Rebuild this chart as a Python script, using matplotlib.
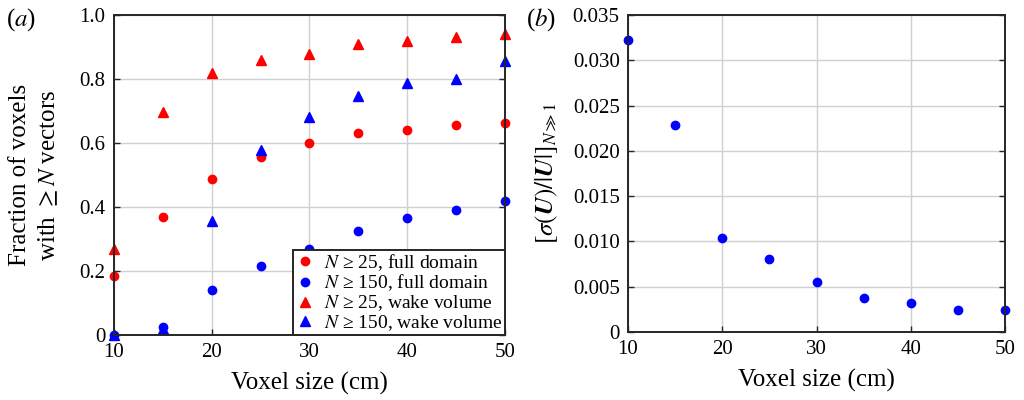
import matplotlib
matplotlib.use("Agg")
import matplotlib.pyplot as plt

plt.rcParams['font.family'] = ['Liberation Serif', 'DejaVu Serif']
plt.rcParams['mathtext.fontset'] = 'stix'

voxel = [10, 15, 20, 25, 30, 35, 40, 45, 50]
full_25 = [0.185, 0.37, 0.488, 0.557, 0.60, 0.632, 0.641, 0.656, 0.661]
full_150 = [0.0, 0.025, 0.14, 0.215, 0.27, 0.325, 0.367, 0.39, 0.42]
wake_25 = [0.27, 0.697, 0.82, 0.86, 0.877, 0.91, 0.92, 0.93, 0.94]
wake_150 = [0.0, 0.02, 0.355, 0.578, 0.68, 0.748, 0.788, 0.80, 0.855]
sigma_ratio = [0.0322, 0.0228, 0.0104, 0.0081, 0.0055, 0.0037, 0.0032, 0.0024, 0.0024]

spine_c = '#262626'
fig = plt.figure(figsize=(10.24, 4.0), dpi=100)
ax1 = fig.add_axes([0.1113, 0.1625, 0.3818, 0.8])
ax2 = fig.add_axes([0.6133, 0.17, 0.3682, 0.7925])

def style(ax):
    for s in ax.spines.values():
        s.set_color(spine_c)
        s.set_linewidth(1.4)
    ax.tick_params(direction='in', length=4, width=1.0, color=spine_c,
                   labelsize=15, right=True, top=False, pad=6)
    for t in ax.get_xticklabels() + ax.get_yticklabels():
        t.set_fontfamily('Liberation Serif')
    ax.grid(True, color='#d0d0d0', linewidth=1.0)
    ax.set_axisbelow(True)
    ax.set_xlabel('Voxel size (cm)', fontsize=18, labelpad=7)

ms = 6
ax1.plot(voxel, full_25, 'o', color='#ff0000', ms=ms, clip_on=False, label=r'$N$ ≥ 25, full domain')
ax1.plot(voxel, full_150, 'o', color='#0000ff', ms=ms, clip_on=False, label=r'$N$ ≥ 150, full domain')
ax1.plot(voxel, wake_25, '^', color='#ff0000', ms=ms+0.5, clip_on=False, label=r'$N$ ≥ 25, wake volume')
ax1.plot(voxel, wake_150, '^', color='#0000ff', ms=ms+0.5, clip_on=False, label=r'$N$ ≥ 150, wake volume')
ax1.set_xlim(10, 50)
ax1.set_ylim(0, 1.0)
ax1.set_xticks([10, 20, 30, 40, 50])
ax1.set_yticks([0, 0.2, 0.4, 0.6, 0.8, 1.0])
ax1.set_yticklabels(['0', '0.2', '0.4', '0.6', '0.8', '1.0'])
style(ax1)
ax1.set_ylabel('Fraction of voxels\n' + r'with $\geq N$ vectors', fontsize=18, linespacing=1.3, labelpad=14)
leg = ax1.legend(loc='lower right', fontsize=14, frameon=True, fancybox=False,
                 edgecolor=spine_c, framealpha=1, borderpad=0.1, handletextpad=0.5,
                 handlelength=1.0, labelspacing=0.0, borderaxespad=0.0)
leg.get_frame().set_linewidth(1.4)

ax2.plot(voxel, sigma_ratio, 'o', color='#0000ff', ms=ms, clip_on=False)
ax2.set_xlim(10, 50)
ax2.set_ylim(0, 0.035)
ax2.set_xticks([10, 20, 30, 40, 50])
ax2.set_yticks([0, 0.005, 0.010, 0.015, 0.020, 0.025, 0.030, 0.035])
ax2.set_yticklabels(['0', '0.005', '0.010', '0.015', '0.020', '0.025', '0.030', '0.035'])
style(ax2)
ax2.set_ylabel(r'$[\sigma(\boldsymbol{U})/|\boldsymbol{U}|]_{N\gg 1}$', fontsize=18, labelpad=9)

fig.text(0.006, 0.95, r'($a$)', fontsize=18, va='center')
fig.text(0.514, 0.95, r'($b$)', fontsize=18, va='center')

fig.savefig('out.png', dpi=100)
